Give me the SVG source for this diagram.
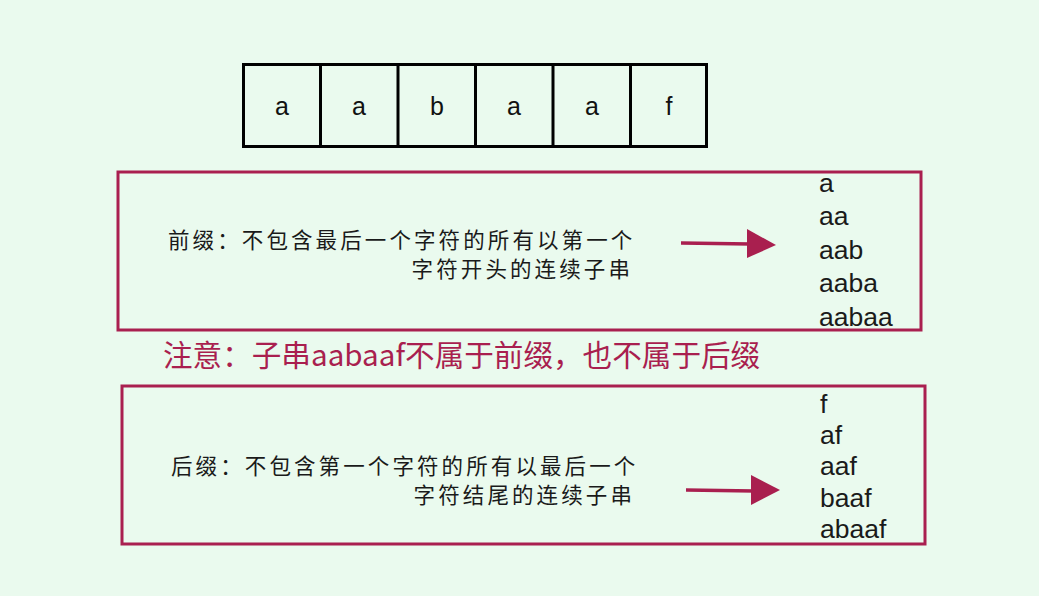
<svg xmlns="http://www.w3.org/2000/svg" width="1039" height="596" viewBox="0 0 1039 596">
<style>
.cell{fill:none;stroke:#000;stroke-width:3}
.ct{font-family:"Liberation Sans",Arial,sans-serif;font-size:25px;fill:#111;text-anchor:middle}
.box{fill:none;stroke:#a91f4f;stroke-width:3}
.desc{font-family:"Noto Sans CJK SC","Noto Sans",sans-serif;font-size:21.5px;letter-spacing:3.1px;fill:#1a1a1a}
.lst{font-family:"Liberation Sans",Arial,sans-serif;font-size:26.5px;fill:#1a1a1a}
.note{font-family:"Noto Sans CJK SC","Noto Sans",sans-serif;font-size:29.6px;fill:#a91f4f}
.arr{stroke:#a91f4f;stroke-width:3.5;fill:none}
.ah{fill:#a91f4f}
</style>
<rect width="1039" height="596" fill="#eafaee"/>
<g id="array">
<rect class="cell" x="243.5" y="64.5" width="463" height="82"/>
<line class="cell" x1="320.5" y1="64.5" x2="320.5" y2="146.5"/>
<line class="cell" x1="398" y1="64.5" x2="398" y2="146.5"/>
<line class="cell" x1="475.5" y1="64.5" x2="475.5" y2="146.5"/>
<line class="cell" x1="553" y1="64.5" x2="553" y2="146.5"/>
<line class="cell" x1="630.5" y1="64.5" x2="630.5" y2="146.5"/>
<text class="ct" x="282" y="115">a</text>
<text class="ct" x="359" y="115">a</text>
<text class="ct" x="437" y="115">b</text>
<text class="ct" x="514" y="115">a</text>
<text class="ct" x="592" y="115">a</text>
<text class="ct" x="669" y="115">f</text>
</g>
<g id="prefix">
<rect class="box" x="118" y="172" width="803" height="158"/>
<text class="desc" x="168" y="248">前缀：不包含最后一个字符的所有以第一个</text>
<text class="desc" x="633" y="277" text-anchor="end">字符开头的连续子串</text>
<text class="lst" x="819" y="192">a</text>
<text class="lst" x="819" y="225">aa</text>
<text class="lst" x="819" y="259">aab</text>
<text class="lst" x="819" y="292">aaba</text>
<text class="lst" x="819" y="326">aabaa</text>
</g>
<g id="note">
<text class="note" x="163" y="366">注意：子串aabaaf不属于前缀，也不属于后缀</text>
</g>
<g id="suffix">
<rect class="box" x="122" y="386" width="803" height="158"/>
<text class="desc" x="171" y="474">后缀：不包含第一个字符的所有以最后一个</text>
<text class="desc" x="635" y="503" text-anchor="end">字符结尾的连续子串</text>
<text class="lst" x="820" y="413">f</text>
<text class="lst" x="820" y="444">af</text>
<text class="lst" x="820" y="475">aaf</text>
<text class="lst" x="820" y="507">baaf</text>
<text class="lst" x="820" y="538">abaaf</text>
</g>
<g id="connectors">
<line class="arr" x1="681" y1="243" x2="750" y2="244"/>
<polygon class="ah" points="747,229 776,245 747,258"/>
<line class="arr" x1="686" y1="490" x2="754" y2="491"/>
<polygon class="ah" points="751,475 780,490 751,505"/>
</g>
</svg>
